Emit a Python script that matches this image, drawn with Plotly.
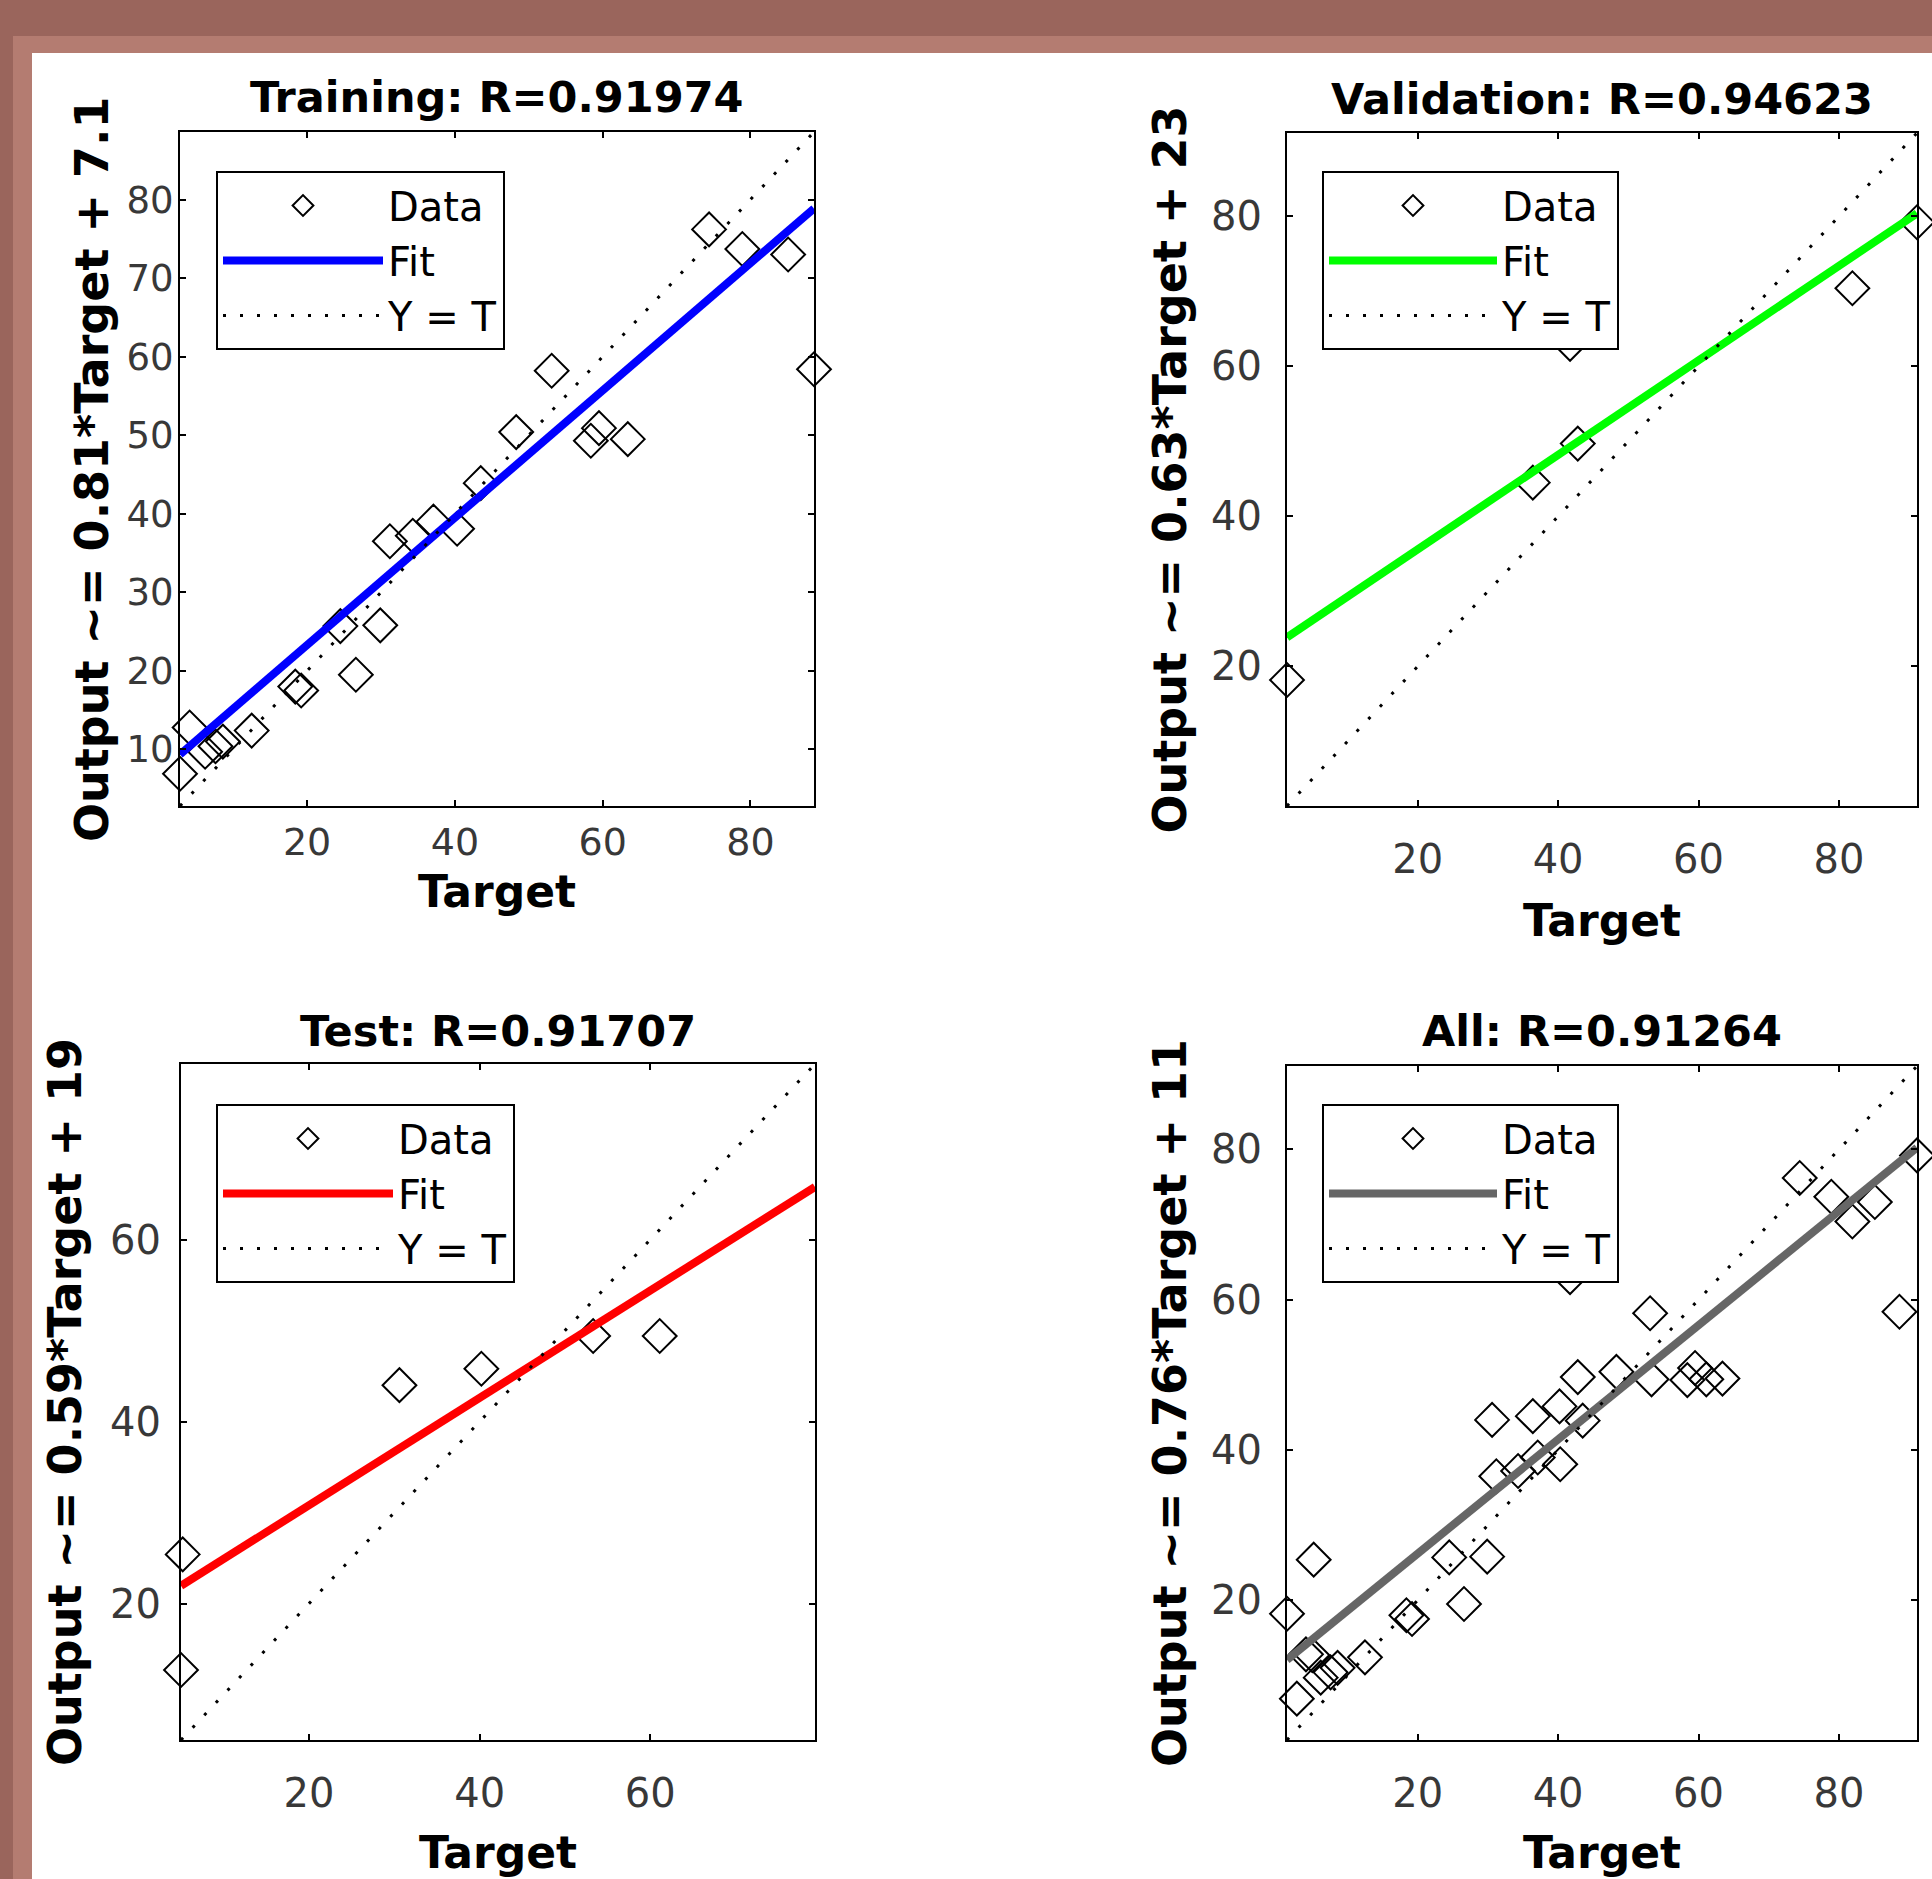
import plotly.graph_objects as go

W, H = 1932, 1879

# ---------------- data ----------------
train_target = [2.8, 4.1, 6.2, 7.6, 8.6, 12.5, 18.4, 19.2, 24.5, 26.6, 29.9, 31.2, 34.3,
                37.1, 40.3, 43.5, 48.3, 53.1, 58.4, 59.5, 63.4, 74.4, 78.9, 85.1, 88.6]
train_output = [6.9, 12.8, 9.7, 10.4, 11.0, 12.4, 18.0, 17.5, 25.7, 19.5, 25.8, 36.5, 37.2,
                39.0, 38.1, 43.9, 50.4, 58.2, 49.3, 50.9, 49.5, 76.2, 73.7, 73.0, 58.4]
val_target = [1.4, 36.4, 42.8, 41.7, 81.9, 91.1]
val_output = [18.2, 44.5, 49.7, 63.0, 70.4, 79.2]
test_target = [5.2, 5.0, 30.6, 40.2, 53.3, 61.1]
test_output = [25.4, 12.7, 44.0, 45.8, 49.4, 49.4]
all_target = train_target + val_target + test_target
all_output = train_output + val_output + test_output

panel_names = ["Training", "Validation", "Test", "All"]
r_values = ["0.91974", "0.94623", "0.91707", "0.91264"]
fit_slope = [0.81, 0.63, 0.59, 0.76]
fit_intercept = [7.1, 23, 19, 11]
fit_label = ["0.81*Target + 7.1", "0.63*Target + 23", "0.59*Target + 19", "0.76*Target + 11"]
fit_colors = ["#0000FF", "#00FF00", "#FF0000", "#666666"]
axis_min = [2.8, 1.4, 5.0, 1.4]
axis_max = [88.6, 91.1, 79.3, 91.1]
x_ticks = [[20, 40, 60, 80], [20, 40, 60, 80], [20, 40, 60], [20, 40, 60, 80]]
y_ticks = [[10, 20, 30, 40, 50, 60, 70, 80], [20, 40, 60, 80], [20, 40, 60], [20, 40, 60, 80]]
targets = [train_target, val_target, test_target, all_target]
outputs = [train_output, val_output, test_output, all_output]

# ---------------- layout geometry (pixels) ----------------
boxes = [(180, 814, 132, 806), (1287, 1917, 133, 806),
         (181, 815, 1064, 1740), (1287, 1917, 1066, 1740)]
title_y = [97, 99, 1031, 1031]
xlabel_y = [892, 920, 1852, 1852]
ylabel_x = [92, 1170, 65, 1170]
x_standoff = [1, 17, 17, 17]
y_standoff = [-3, 15, 10, 15]
x_tick_size = [38, 40, 40, 40]
y_tick_size = [37, 40, 40, 40]
legend_pos = [(216, 171), (1322, 171), (216, 1104), (1322, 1104)]
legend_itemwidth = [160, 168, 170, 168]

FONT = "DejaVu Sans"


def fx(p):
    return p / W


def fy(p):
    return 1 - p / H


fig = go.Figure()
annotations = []
layout_axes = {}

for i in range(4):
    n = "" if i == 0 else str(i + 1)
    xa, ya = "x" + n, "y" + n
    leg = "legend" + n
    lo, hi = axis_min[i], axis_max[i]
    fig.add_trace(go.Scatter(
        x=targets[i], y=outputs[i], mode="markers", name="Data",
        xaxis=xa, yaxis=ya, legend=leg, cliponaxis=False,
        marker=dict(symbol="diamond-open", size=26, color="black",
                    line=dict(width=2, color="black"))))
    fig.add_trace(go.Scatter(
        x=[lo, hi], y=[fit_slope[i] * lo + fit_intercept[i], fit_slope[i] * hi + fit_intercept[i]],
        mode="lines", name="Fit", xaxis=xa, yaxis=ya, legend=leg,
        line=dict(color=fit_colors[i], width=8)))
    fig.add_trace(go.Scatter(
        x=[lo, hi], y=[lo, hi], mode="lines", name="Y = T", xaxis=xa, yaxis=ya, legend=leg,
        line=dict(color="black", width=3, dash="3px,14px")))

    l, r, t, b = boxes[i]
    common = dict(showgrid=False, zeroline=False, showline=True, linecolor="black", linewidth=2,
                  mirror="ticks", ticks="inside", ticklen=6, tickwidth=2, tickcolor="black",
                  range=[lo, hi], fixedrange=True)
    layout_axes["xaxis" + n] = dict(common, domain=[fx(l), fx(r)], anchor=ya,
                                    tickvals=x_ticks[i], ticklabelstandoff=x_standoff[i],
                                    tickfont=dict(family=FONT, size=x_tick_size[i], color="#383838"))
    layout_axes["yaxis" + n] = dict(common, domain=[fy(b), fy(t)], anchor=xa,
                                    tickvals=y_ticks[i], ticklabelstandoff=y_standoff[i],
                                    tickfont=dict(family=FONT, size=y_tick_size[i], color="#383838"))
    lx, ly = legend_pos[i]
    layout_axes[leg] = dict(x=fx(lx), y=fy(ly), xanchor="left", yanchor="top",
                            bgcolor="white", bordercolor="black", borderwidth=2,
                            font=dict(family=FONT, size=40, color="black"),
                            itemwidth=legend_itemwidth[i], traceorder="normal")

    cx = (l + r) / 2
    annotations.append(dict(text="<b>%s: R=%s</b>" % (panel_names[i], r_values[i]),
                            x=fx(cx), y=fy(title_y[i]), xref="paper", yref="paper",
                            xanchor="center", yanchor="middle", showarrow=False,
                            font=dict(family=FONT, size=43, color="black")))
    annotations.append(dict(text="<b>Target</b>", x=fx(cx), y=fy(xlabel_y[i]),
                            xref="paper", yref="paper", xanchor="center", yanchor="middle",
                            showarrow=False, font=dict(family=FONT, size=44, color="black")))
    annotations.append(dict(text="<b>Output ~= %s</b>" % fit_label[i], x=fx(ylabel_x[i]),
                            y=fy((t + b) / 2), xref="paper", yref="paper", textangle=-90,
                            xanchor="center", yanchor="middle", showarrow=False,
                            font=dict(family=FONT, size=46, color="black")))

# window frame (brown border)
DARK = "#9A655C"
ROSE = "#B47C71"
shapes = [
    dict(type="rect", xref="paper", yref="paper", x0=0, x1=1, y0=fy(36), y1=1,
         fillcolor=DARK, line=dict(width=0), layer="below"),
    dict(type="rect", xref="paper", yref="paper", x0=0, x1=fx(13), y0=0, y1=1,
         fillcolor=DARK, line=dict(width=0), layer="below"),
    dict(type="rect", xref="paper", yref="paper", x0=fx(13), x1=1, y0=fy(53), y1=fy(36),
         fillcolor=ROSE, line=dict(width=0), layer="below"),
    dict(type="rect", xref="paper", yref="paper", x0=fx(13), x1=fx(32), y0=0, y1=fy(36),
         fillcolor=ROSE, line=dict(width=0), layer="below"),
]

fig.update_layout(width=W, height=H, margin=dict(l=0, r=0, t=0, b=0),
                  paper_bgcolor="white", plot_bgcolor="white",
                  annotations=annotations, shapes=shapes, **layout_axes)

fig.write_html("out.html", config={"displayModeBar": False},
               post_script="document.body.style.margin='0';document.body.style.overflow='hidden';")
